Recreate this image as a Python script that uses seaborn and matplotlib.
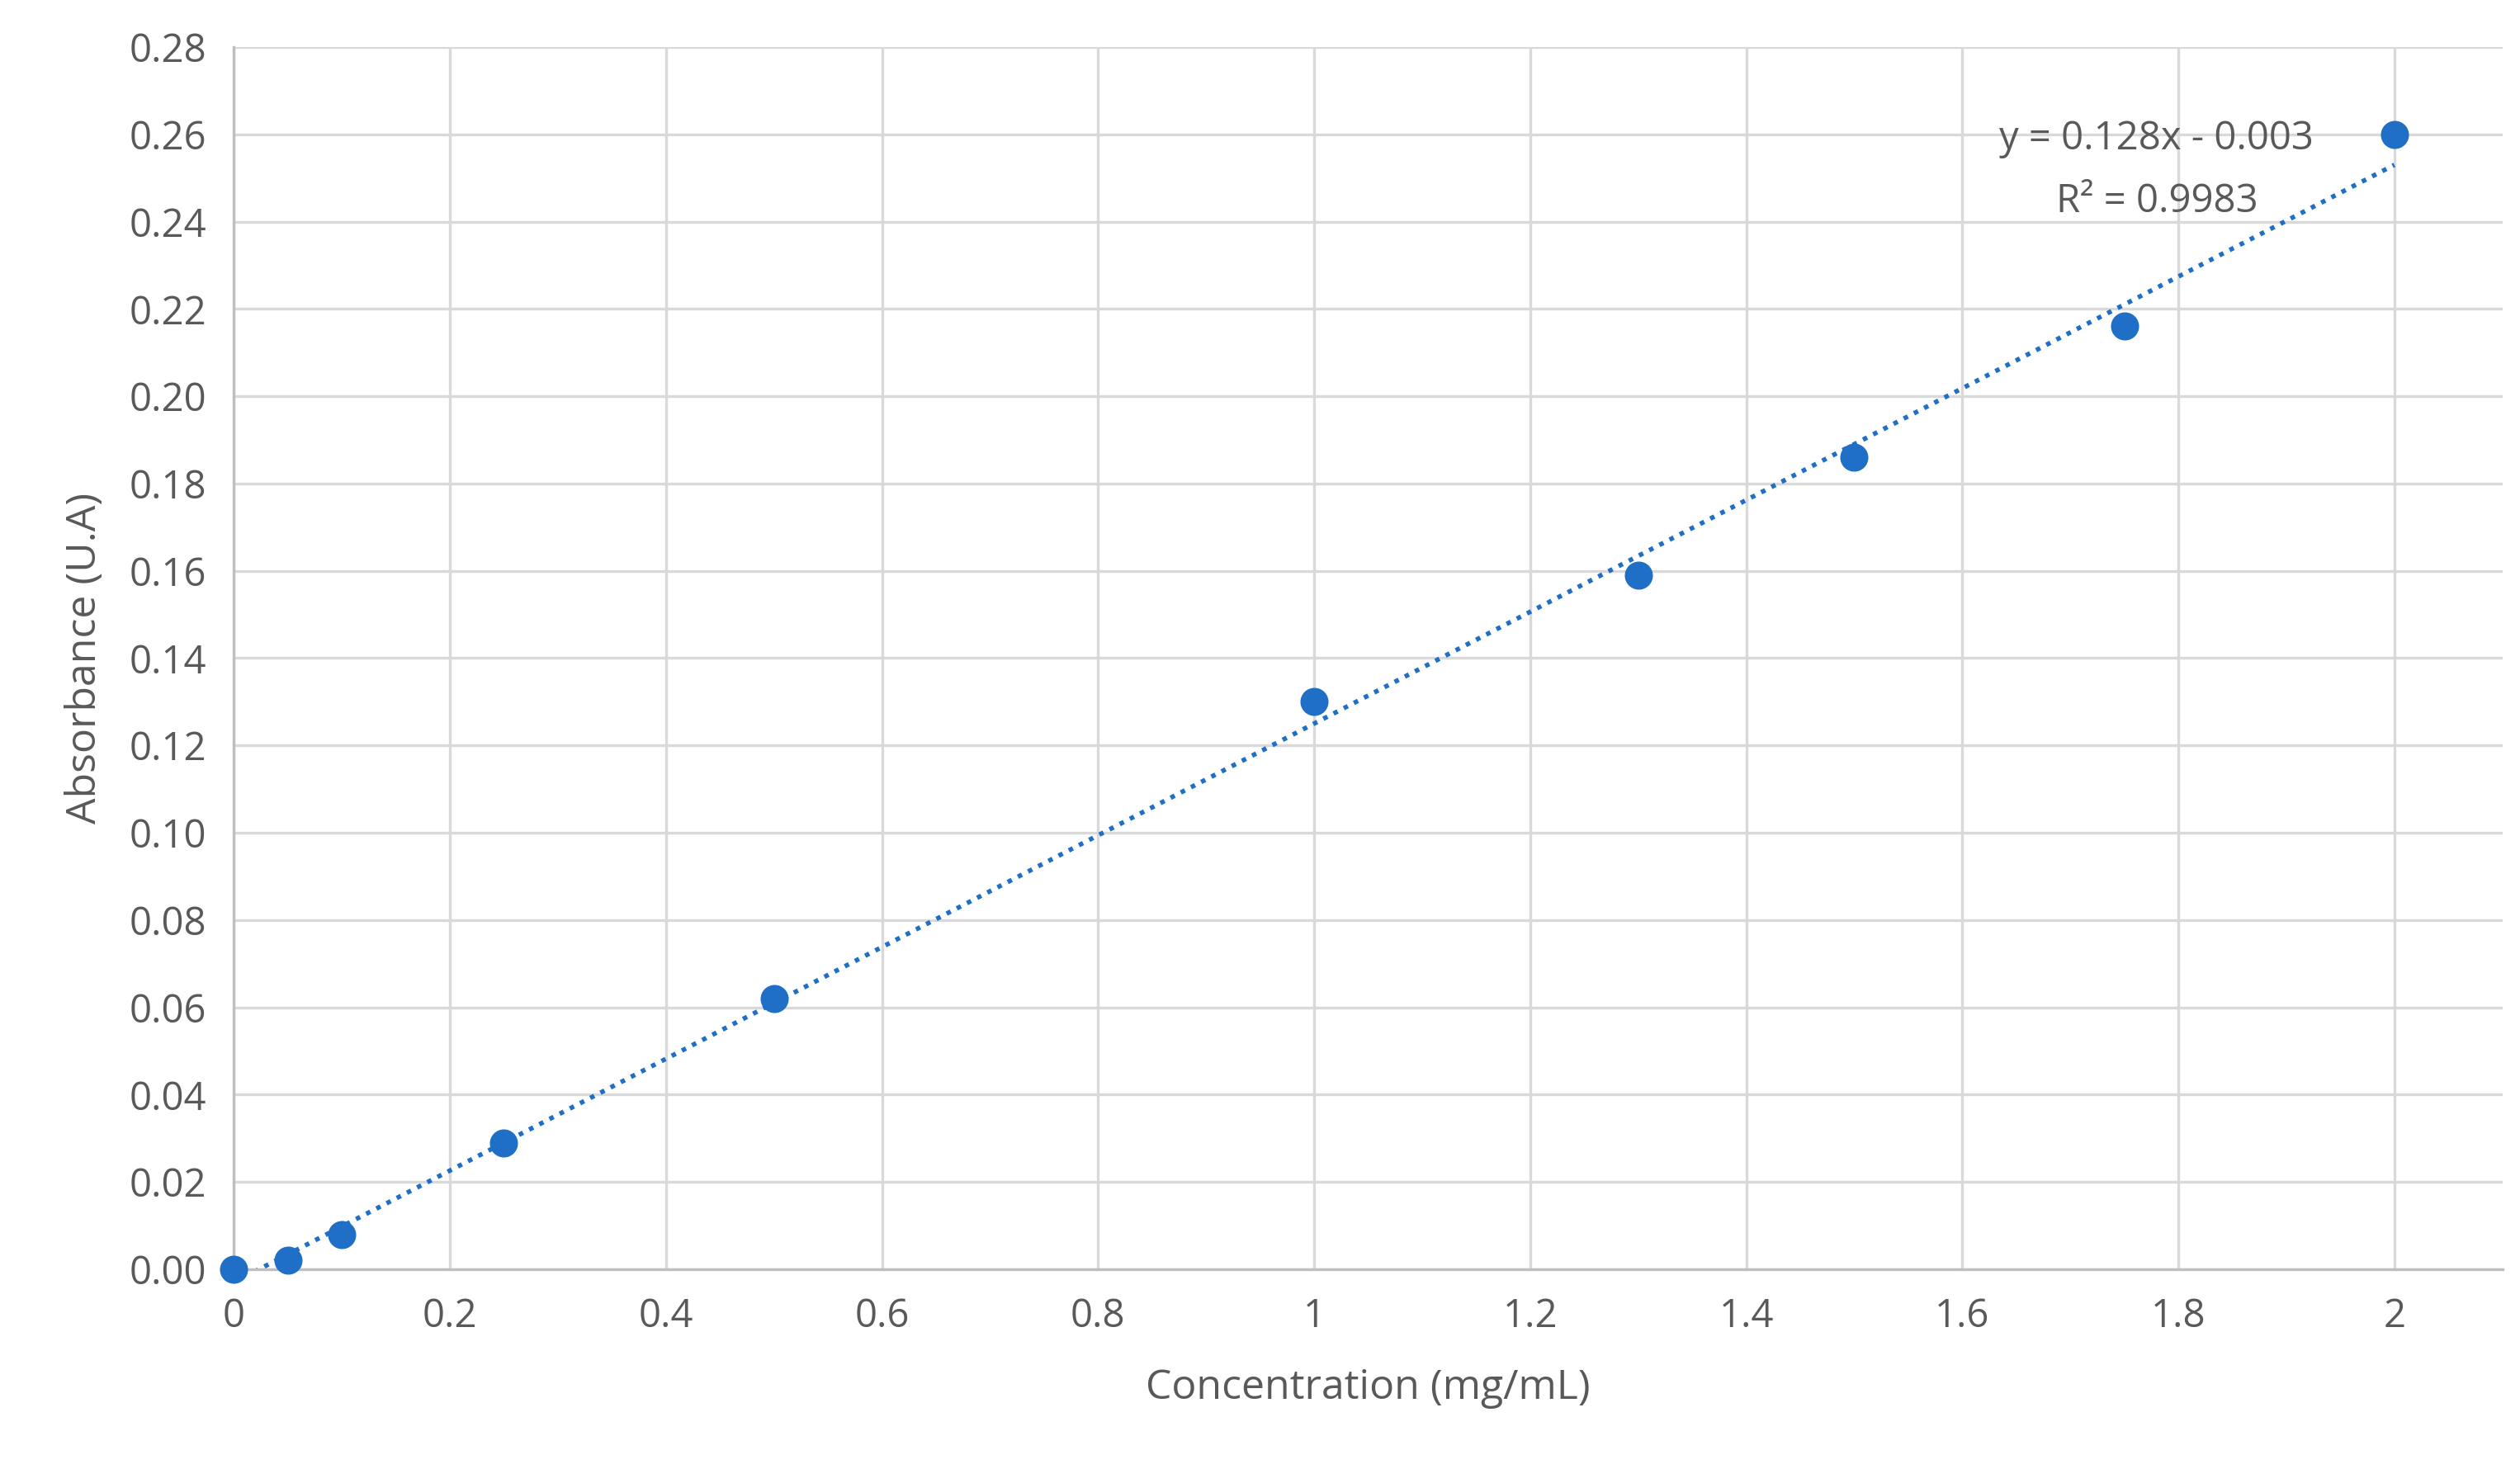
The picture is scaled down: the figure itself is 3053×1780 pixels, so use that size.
import matplotlib
matplotlib.use("Agg")
import matplotlib.pyplot as plt
import seaborn as sns
import numpy as np
import pandas as pd

conc = [0, 0.05, 0.1, 0.25, 0.5, 1.0, 1.3, 1.5, 1.75, 2.0]
absorb = [0.0, 0.002, 0.008, 0.029, 0.062, 0.130, 0.159, 0.186, 0.216, 0.260]
slope, intercept = 0.128, -0.003
xticks = [0, 0.2, 0.4, 0.6, 0.8, 1, 1.2, 1.4, 1.6, 1.8, 2]
xticklabels = ["0", "0.2", "0.4", "0.6", "0.8", "1", "1.2", "1.4", "1.6", "1.8", "2"]
yticks = [round(0.02 * i, 2) for i in range(15)]

sns.set_theme(style="whitegrid")
plt.rcParams['font.family'] = ['Open Sans', 'DejaVu Sans']
grey = "#595959"
blue = "#1f6fc6"

fig = plt.figure(figsize=(15.265, 8.9), dpi=200)
ax = fig.add_axes([0.0928, 0.136, 0.9002, 0.832])

df = pd.DataFrame({"Concentration": conc, "Absorbance": absorb})
xs = np.array([0, 2.0])
ax.plot(xs, slope * xs + intercept, linestyle=(0, (1, 1.5)), color=blue, lw=2, zorder=2)
sns.scatterplot(data=df, x="Concentration", y="Absorbance", ax=ax, color=blue,
                s=150, edgecolor=blue, linewidth=0, zorder=3, clip_on=False)

ax.set_xlim(0, 2.1)
ax.set_ylim(0, 0.28)
ax.set_xticks(xticks)
ax.set_xticklabels(xticklabels)
ax.set_yticks(yticks)
ax.set_yticklabels([f"{v:.2f}" for v in yticks])
ax.tick_params(colors=grey, labelsize=17, length=0, pad=12)
ax.grid(True, color="#d9d9d9", lw=1.2)
for s in ["top", "right"]:
    ax.spines[s].set_visible(False)
for s in ["left", "bottom"]:
    ax.spines[s].set_color("#bfbfbf")
    ax.spines[s].set_linewidth(1.2)
ax.set_xlabel("Concentration (mg/mL)", color=grey, fontsize=18, labelpad=14)
ax.set_ylabel("Absorbance (U.A)", color=grey, fontsize=18, labelpad=10)
ax.text(1.78, 0.2590, "y = 0.128x - 0.003", color=grey, fontsize=17, ha="center", va="center")
ax.text(1.78, 0.2445, "R² = 0.9983", color=grey, fontsize=17, ha="center", va="center")
ax.set_facecolor("white")
fig.savefig("out.png", dpi=200, facecolor="white")
